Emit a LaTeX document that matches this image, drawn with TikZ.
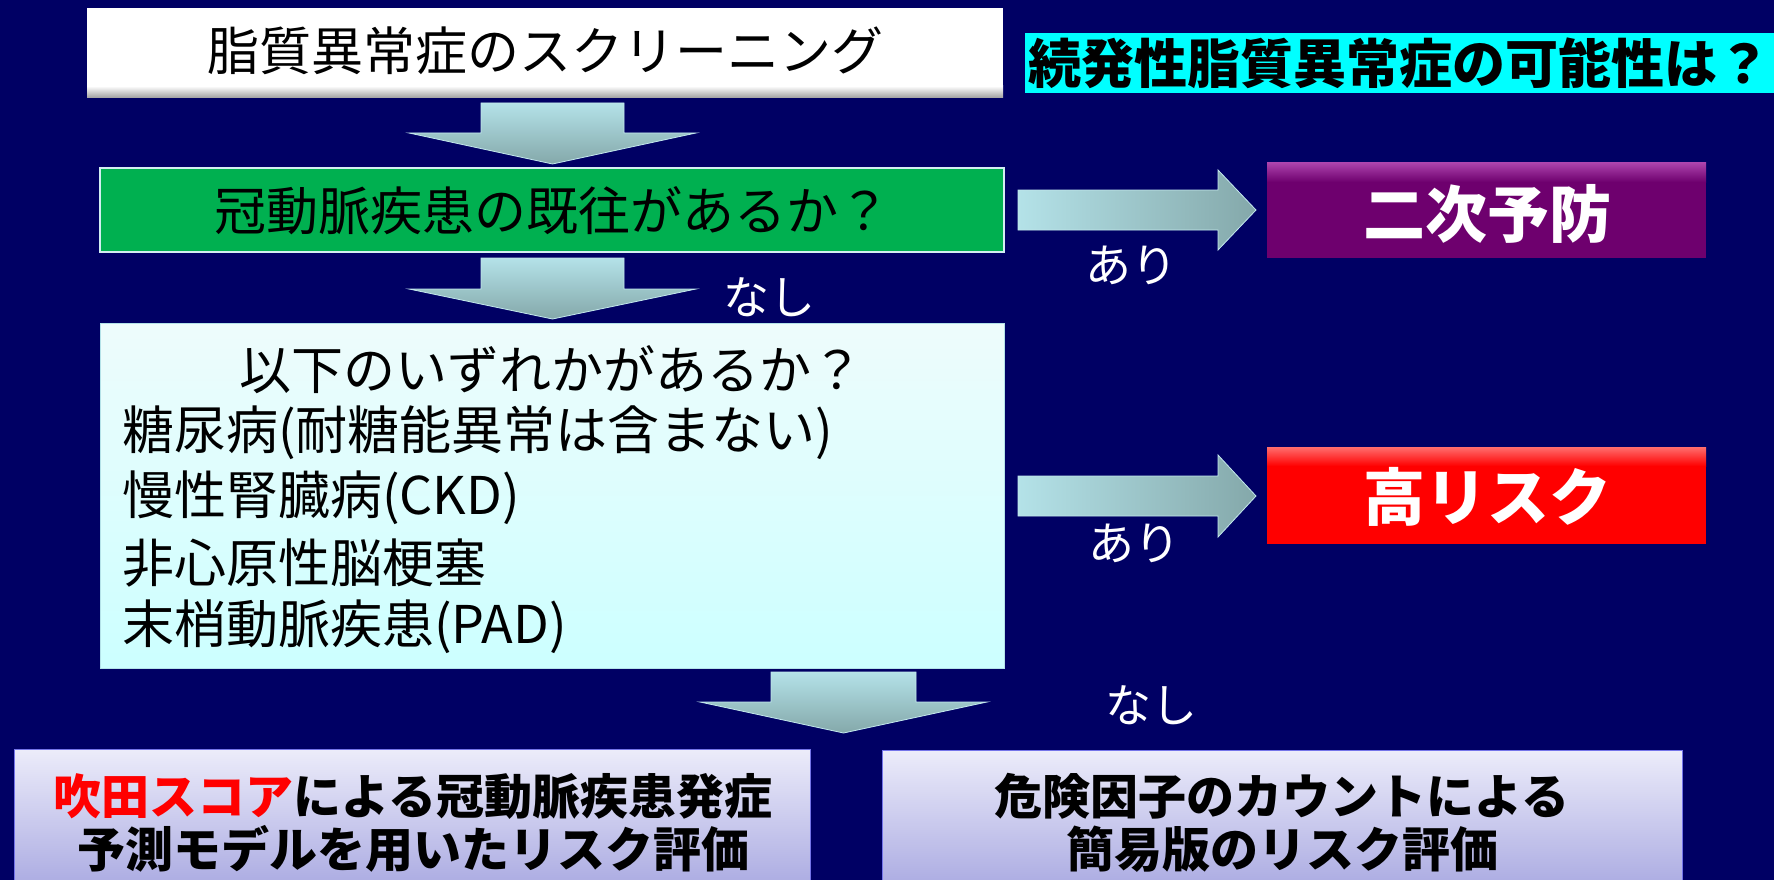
\documentclass[tikz,border=0pt]{standalone}
\usepackage{fontspec}
\setmainfont{Noto Sans CJK JP}
\definecolor{bg}{RGB}{0,0,100}
\definecolor{arrtop}{RGB}{180,226,232}
\definecolor{arrbot}{RGB}{132,168,170}
\definecolor{grn}{RGB}{0,176,80}
\definecolor{purp}{RGB}{110,0,110}
\definecolor{purplt}{RGB}{175,70,175}
\definecolor{redlt}{RGB}{255,110,110}
\definecolor{lav1}{RGB}{236,236,250}
\definecolor{lav2}{RGB}{166,166,224}
\definecolor{cyanlt1}{RGB}{238,252,252}
\definecolor{cyanlt2}{RGB}{204,255,255}
\definecolor{lblcyan}{RGB}{0,255,255}
\newcommand\blkdown[6]{%
  \shade[top color=arrtop,bottom color=arrbot,draw=arrtop!80!white,line width=0.8pt]
  (#1-#5,#2) -- (#1+#5,#2) -- (#1+#5,#3) -- (#1+#6,#3) -- (#1,#4) -- (#1-#6,#3) -- (#1-#5,#3) -- cycle;}
\newcommand\blkright[6]{%
  \shade[left color=arrtop,right color=arrbot,draw=arrtop!80!white,line width=0.8pt]
  (#1,#4-#5) -- (#2,#4-#5) -- (#2,#4-#6) -- (#3,#4) -- (#2,#4+#6) -- (#2,#4+#5) -- (#1,#4+#5) -- cycle;}
\begin{document}
\begin{tikzpicture}[x=1pt,y=-1pt,
  blk/.style={inner sep=0pt, outer sep=0pt, anchor=north west},
  t52/.style={font=\fontsize{52}{60}\selectfont, inner sep=0pt, text=black},
  lbl/.style={text=white, font=\fontsize{46}{50}\selectfont, inner sep=0pt},
  big/.style={text=white, font=\bfseries\fontsize{62}{70}\selectfont, inner sep=0pt},
  bot/.style={text=black, font=\bfseries\fontsize{48}{53}\selectfont, inner sep=0pt, align=center}
]
\useasboundingbox (0,0) rectangle (1774,880);
\fill[bg] (0,0) rectangle (1774,880);
\begin{scope}
\clip (0,0) rectangle (1774,880);
% screening box
\node[blk, fill=white, minimum width=916pt, minimum height=90pt] (screenbox) at (87,8) {};
\shade[top color=white, bottom color=gray!75] (87,86) rectangle (1003,98);
\node[t52] (screen) at (545,51) {脂質異常症のスクリーニング};
% cyan label
\node[blk, fill=lblcyan, minimum width=760pt, minimum height=60pt] (lblbox) at (1025,33) {};
\node[inner sep=0pt, anchor=west, font=\bfseries\fontsize{53}{60}\selectfont] (secondaryq) at (1028,63) {続発性脂質異常症の可能性は？};
% arrow 1
\blkdown{552.5}{103}{133}{164}{71.5}{143.5}
% green box
\node[blk, fill=grn, draw=arrtop!60!white, line width=1.5pt, minimum width=904pt, minimum height=84pt] (cadbox) at (100,168) {};
\node[t52] (cad) at (552,211) {冠動脈疾患の既往があるか？};
% right arrow 1
\blkright{1018}{1218}{1256}{210}{20}{40}
\node[lbl] (ari1) at (1131,265) {あり};
% purple box
\node[blk, fill=purp, minimum width=439pt, minimum height=96pt] (secbox) at (1267,162) {};
\shade[top color=purplt, bottom color=purp] (1267,162) rectangle (1706,182);
\node[big] (secondary) at (1487,214) {二次予防};
% arrow 2
\blkdown{552.5}{258}{289}{319}{71.5}{143.5}
\node[lbl] (nashi1) at (769,297) {なし};
% criteria box
\node[blk, top color=cyanlt1, bottom color=cyanlt2, draw=arrtop, line width=1pt, minimum width=904pt, minimum height=345pt] (critbox) at (100,323) {};
\node[t52] (q) at (551,370) {以下のいずれかがあるか？};
\node[t52, anchor=west] (l1) at (122,433) {糖尿病(耐糖能異常は含まない)};
\node[t52, anchor=west] (l2) at (122,498) {慢性腎臓病(CKD)};
\node[t52, anchor=west] (l3) at (122,563) {非心原性脳梗塞};
\node[t52, anchor=west] (l4) at (122,627) {末梢動脈疾患(PAD)};
% right arrow 2
\blkright{1018}{1218}{1256}{496}{20}{41}
\node[lbl] (ari2) at (1134,543) {あり};
% red box
\node[blk, fill=red, minimum width=439pt, minimum height=97pt] (hrbox) at (1267,447) {};
\shade[top color=redlt, bottom color=red] (1267,447) rectangle (1706,466);
\node[big] (highrisk) at (1487,497) {高リスク};
% arrow 3
\blkdown{843.5}{672}{702}{733}{72.5}{143.5}
\node[lbl] (nashi2) at (1151,705) {なし};
% bottom boxes
\node[blk, top color=lav1, bottom color=lav2, draw=lav2!70!blue, line width=1pt, minimum width=796pt, minimum height=148pt] (suitabox) at (14,749) {};
\node[bot] (suita) at (413,823) {{\color{red}吹田スコア}による冠動脈疾患発症\\予測モデルを用いたリスク評価};
\node[blk, top color=lav1, bottom color=lav2, draw=lav2!70!blue, line width=1pt, minimum width=800pt, minimum height=148pt] (countbox) at (882,750) {};
\node[bot] (count) at (1282,823) {危険因子のカウントによる\\簡易版のリスク評価};
\end{scope}
\end{tikzpicture}
\end{document}
